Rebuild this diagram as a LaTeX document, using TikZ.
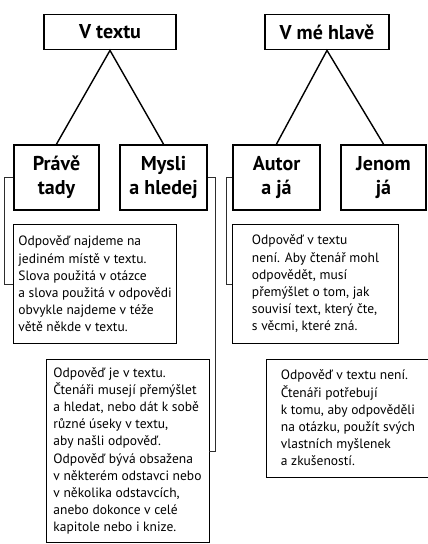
\documentclass[tikz,border=0pt]{standalone}
\usepackage{fontspec}
\setmainfont{PT Sans}
\usepackage{tikz}
\definecolor{linkgray}{RGB}{45,45,45}
\tikzset{
	headbox/.style={draw, line width=1.8pt, inner sep=0pt, minimum height=35pt, font=\bfseries\fontsize{20}{24}\selectfont},
	catbox/.style={draw, line width=1.8pt, inner sep=0pt, minimum height=65pt, align=center, font=\bfseries\fontsize{20}{24}\selectfont},
	infobox/.style={draw, line width=0.9pt, inner sep=0pt, align=left, font=\fontsize{13.5}{17.2}\selectfont},
	branch/.style={line width=1.4pt},
	link/.style={line width=0.9pt, draw=linkgray}
}

\begin{document}
\begin{tikzpicture}[x=1pt,y=-1pt]
						\clip (0,0) rectangle (428,544);
						
						% horni rada
						\node[headbox, minimum width=132pt] (vtextu) at (110,32) {V textu};
						\node[headbox, minimum width=124pt] (vhlave) at (327,32) {V mé hlavě};
						
						% druha rada
						\node[catbox, minimum width=85pt] (prave) at (56.5,177.5) {Právě\\tady};
						\node[catbox, minimum width=87pt] (mysli) at (163.5,177.5) {Mysli\\a hledej};
						\node[catbox, minimum width=87pt] (autor) at (276.5,177.5) {Autor\\a já};
						\node[catbox, minimum width=85pt] (jenom) at (383.5,177.5) {Jenom\\já};
						
						\draw[branch] (prave.north) -- (vtextu.south) -- (mysli.north);
						\draw[branch] (autor.north) -- (vhlave.south) -- (jenom.north);
						
						% popisy
						\node[infobox, minimum width=163pt, minimum height=119pt] (odp1) at (95,284) {Odpověď najdeme na\\jediném místě v textu.\\Slova použitá v otázce\\a slova použitá v odpovědi\\obvykle najdeme v téže\\větě někde v textu.};
						\node[infobox, minimum width=166pt, minimum height=119pt] (odp3) at (315.5,284) {Odpověď v textu\\není. Aby čtenář mohl\\odpovědět, musí\\přemýšlet o tom, jak\\souvisí text, který čte,\\s věcmi, které zná.};
						\node[infobox, minimum width=163pt, minimum height=183pt] (odp2) at (127.5,451) {Odpověď je v textu.\\Čtenáři musejí přemýšlet\\a hledat, nebo dát k sobě\\různé úseky v textu,\\aby našli odpověď.\\Odpověď bývá obsažena\\v některém odstavci nebo\\v několika odstavcích,\\anebo dokonce v celé\\kapitole nebo i knize.};
						\node[infobox, minimum width=163pt, minimum height=118pt] (odp4) at (348,418) {Odpověď v textu není.\\Čtenáři potřebují\\k tomu, aby odpověděli\\na otázku, použít svých\\vlastních myšlenek\\a zkušeností.};
						
						\draw[link] (prave.west) -- ++(-9,0) |- (odp1.west);
						\draw[link] (mysli.east) -- ++(8,0) |- (odp2.east);
						\draw[link] (autor.west) -- ++(-6,0) |- (odp3.west);
					\end{tikzpicture}
\end{document}
